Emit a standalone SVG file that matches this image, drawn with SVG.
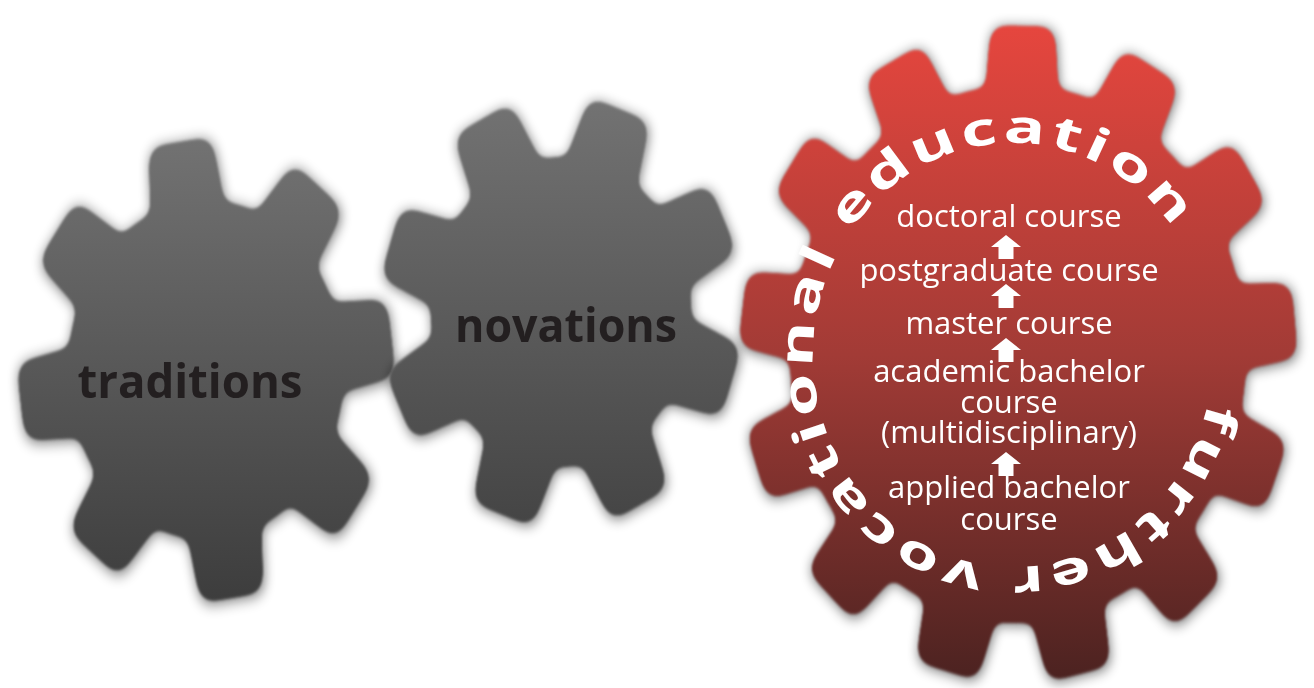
<svg xmlns="http://www.w3.org/2000/svg" xmlns:xlink="http://www.w3.org/1999/xlink" width="1314" height="688" viewBox="0 0 1314 688">
  <style>
    .gear-label { font-family: 'Open Sans', 'Noto Sans', 'Liberation Sans', sans-serif; font-weight: 700; font-size: 47px; fill: #231f20; text-anchor: middle; }
    .course { font-family: 'Open Sans', 'Noto Sans', 'Liberation Sans', sans-serif; font-size: 31px; fill: #ffffff; text-anchor: middle; }
    .ring { font-family: 'Open Sans', 'Noto Sans', 'Liberation Sans', sans-serif; font-weight: 700; font-size: 46px; fill: #ffffff; letter-spacing: 3px; }
    .arrow { fill: #ffffff; }
  </style>
  <defs>
    <!-- body fills, top lit -->
    <linearGradient id="grayA" gradientUnits="userSpaceOnUse" x1="0" y1="140" x2="0" y2="600">
      <stop offset="0" stop-color="#727272"/>
      <stop offset="1" stop-color="#3d3d3d"/>
    </linearGradient>
    <linearGradient id="grayB" gradientUnits="userSpaceOnUse" x1="0" y1="95" x2="0" y2="530">
      <stop offset="0" stop-color="#737373"/>
      <stop offset="1" stop-color="#444444"/>
    </linearGradient>
    <linearGradient id="redGrad" gradientUnits="userSpaceOnUse" x1="0" y1="25" x2="0" y2="685">
      <stop offset="0" stop-color="#e6463e"/>
      <stop offset="0.5" stop-color="#a23b36"/>
      <stop offset="1" stop-color="#4a2220"/>
    </linearGradient>

    <!-- rounds every corner of the union of hub and teeth, then softens the edge -->
    <filter id="goo" x="-20%" y="-20%" width="140%" height="140%">
      <feGaussianBlur stdDeviation="6"/>
      <feColorMatrix values="1 0 0 0 0  0 1 0 0 0  0 0 1 0 0  0 0 0 24 -11"/>
      <feGaussianBlur stdDeviation="1.3"/>
    </filter>
    <filter id="shadow" x="-20%" y="-20%" width="140%" height="140%">
      <feGaussianBlur in="SourceAlpha" stdDeviation="6"/>
      <feOffset dx="1" dy="2"/>
      <feComponentTransfer>
        <feFuncA type="linear" slope="0.6"/>
      </feComponentTransfer>
    </filter>

    <!-- single teeth, pointing up from the gear centre -->
    <path id="toothL" d="M-39,-110 L-33,-173 Q-32,-187 -18,-187 L18,-187 Q32,-187 33,-173 L39,-110 Z"/>
    <path id="toothM" d="M-39,-104 L-33,-166 Q-32,-180 -18,-180 L18,-180 Q32,-180 33,-166 L39,-104 Z"/>
    <path id="toothR" d="M-38,-205 L-33,-264 Q-32,-278 -18,-278 L18,-278 Q32,-278 33,-264 L38,-205 Z"/>

    <!-- gear outlines (fill set by the user of each shape) -->
    <g id="shapeL">
      <circle r="138"/>
      <use xlink:href="#toothL" transform="rotate(-8)"/>
      <use xlink:href="#toothL" transform="rotate(37)"/>
      <use xlink:href="#toothL" transform="rotate(82)"/>
      <use xlink:href="#toothL" transform="rotate(127)"/>
      <use xlink:href="#toothL" transform="rotate(172)"/>
      <use xlink:href="#toothL" transform="rotate(217)"/>
      <use xlink:href="#toothL" transform="rotate(262)"/>
      <use xlink:href="#toothL" transform="rotate(307)"/>
    </g>
    <g id="shapeM">
      <circle r="130"/>
      <use xlink:href="#toothM" transform="rotate(-26)"/>
      <use xlink:href="#toothM" transform="rotate(19)"/>
      <use xlink:href="#toothM" transform="rotate(64)"/>
      <use xlink:href="#toothM" transform="rotate(109)"/>
      <use xlink:href="#toothM" transform="rotate(154)"/>
      <use xlink:href="#toothM" transform="rotate(199)"/>
      <use xlink:href="#toothM" transform="rotate(244)"/>
      <use xlink:href="#toothM" transform="rotate(289)"/>
    </g>
    <g id="shapeR">
      <circle r="228"/>
      <use xlink:href="#toothR" transform="rotate(1)"/>
      <use xlink:href="#toothR" transform="rotate(28.7)"/>
      <use xlink:href="#toothR" transform="rotate(56.4)"/>
      <use xlink:href="#toothR" transform="rotate(84.1)"/>
      <use xlink:href="#toothR" transform="rotate(111.8)"/>
      <use xlink:href="#toothR" transform="rotate(139.5)"/>
      <use xlink:href="#toothR" transform="rotate(167.2)"/>
      <use xlink:href="#toothR" transform="rotate(194.9)"/>
      <use xlink:href="#toothR" transform="rotate(222.6)"/>
      <use xlink:href="#toothR" transform="rotate(250.3)"/>
      <use xlink:href="#toothR" transform="rotate(277.9)"/>
      <use xlink:href="#toothR" transform="rotate(305.6)"/>
      <use xlink:href="#toothR" transform="rotate(333.3)"/>
    </g>

    <mask id="maskL" maskUnits="userSpaceOnUse" x="0" y="0" width="1314" height="688">
      <use xlink:href="#shapeL" fill="#fff" filter="url(#goo)" transform="translate(206,370) scale(1,1.23)"/>
    </mask>
    <mask id="maskM" maskUnits="userSpaceOnUse" x="0" y="0" width="1314" height="688">
      <use xlink:href="#shapeM" fill="#fff" filter="url(#goo)" transform="translate(561,312) scale(1,1.19)"/>
    </mask>
    <mask id="maskR" maskUnits="userSpaceOnUse" x="0" y="0" width="1314" height="688">
      <use xlink:href="#shapeR" fill="#fff" filter="url(#goo)" transform="translate(1018,354) scale(1,1.18)"/>
    </mask>

    <!-- baseline ellipse for the ring lettering, clockwise from the lower right -->
    <path id="ringPath" d="M1207.9,402.7 A200,212 0 0 1 818.1,307.3 A200,212 0 0 1 1207.9,402.7"/>

    <path id="upArrow" d="M0,0 L15,12 L7.5,12 L7.5,24 L-7.5,24 L-7.5,12 L-15,12 Z"/>
  </defs>

  <rect width="1314" height="688" fill="#ffffff"/>

  <g id="gear-traditions">
    <use xlink:href="#shapeL" fill="#000" filter="url(#shadow)" transform="translate(206,370) scale(1,1.23)"/>
    <rect width="1314" height="688" fill="url(#grayA)" mask="url(#maskL)"/>
    <text class="gear-label" x="190" y="398" textLength="225" lengthAdjust="spacingAndGlyphs">traditions</text>
  </g>

  <g id="gear-novations">
    <use xlink:href="#shapeM" fill="#000" filter="url(#shadow)" transform="translate(561,312) scale(1,1.19)"/>
    <rect width="1314" height="688" fill="url(#grayB)" mask="url(#maskM)"/>
    <text class="gear-label" x="566" y="342" textLength="222" lengthAdjust="spacingAndGlyphs">novations</text>
  </g>

  <g id="gear-education">
    <use xlink:href="#shapeR" fill="#000" filter="url(#shadow)" transform="translate(1018,354) scale(1,1.18)"/>
    <rect width="1314" height="688" fill="url(#redGrad)" mask="url(#maskR)"/>
    <text class="ring"><textPath xlink:href="#ringPath" textLength="1115" lengthAdjust="spacingAndGlyphs">further vocational education</textPath></text>
  </g>

  <g id="course-doctoral"><text class="course" x="1009" y="227">doctoral course</text></g>
  <g id="course-postgraduate"><text class="course" x="1009" y="281">postgraduate course</text></g>
  <g id="course-master"><text class="course" x="1009" y="334">master course</text></g>
  <g id="course-academic-bachelor">
    <text class="course" x="1009" y="382">academic bachelor</text>
    <text class="course" x="1009" y="413">course</text>
    <text class="course" x="1009" y="443">(multidisciplinary)</text>
  </g>
  <g id="course-applied-bachelor">
    <text class="course" x="1009" y="498">applied bachelor</text>
    <text class="course" x="1009" y="530">course</text>
  </g>

  <g id="connectors" class="arrow">
    <use xlink:href="#upArrow" transform="translate(1006,235)"/>
    <use xlink:href="#upArrow" transform="translate(1006,284)"/>
    <use xlink:href="#upArrow" transform="translate(1006,338)"/>
    <use xlink:href="#upArrow" transform="translate(1006,452)"/>
  </g>
</svg>
